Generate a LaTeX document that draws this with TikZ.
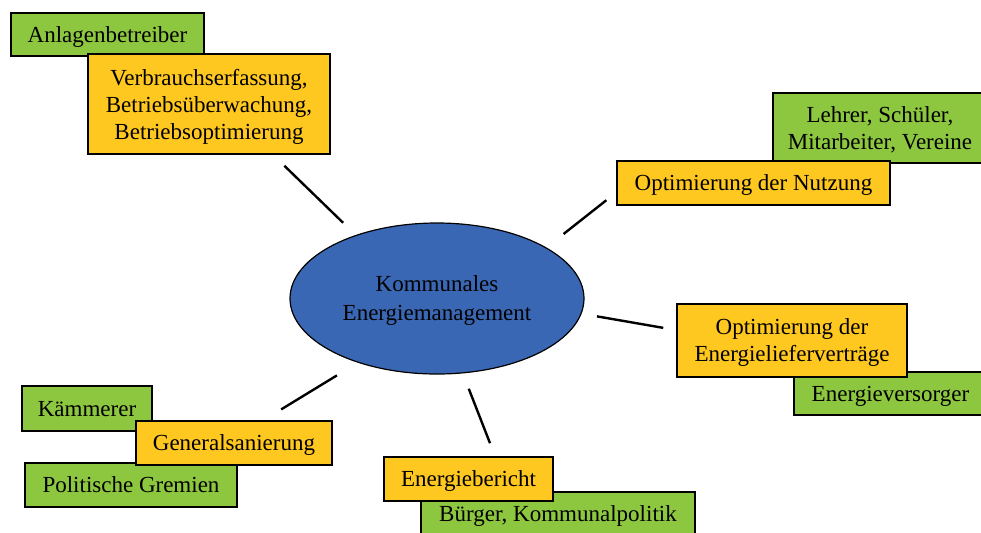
\documentclass[tikz,border=0pt]{standalone}
\usepackage{fontspec}
\setmainfont{Liberation Serif}
\usetikzlibrary{shapes.geometric}
\definecolor{gruen}{RGB}{141,198,63}
\definecolor{gelb}{RGB}{255,200,32}
\definecolor{blau}{RGB}{58,103,179}
\begin{document}
\begin{tikzpicture}[x=0.5pt, y=-0.5pt, font=\fontsize{11.5}{13.5}\selectfont,
    box/.style = {draw, line width=0.75pt, inner sep=0pt, text depth=0pt, align=center},
    rolle/.style = {box, fill=gruen},
    massnahme/.style = {box, fill=gelb},
    kern/.style = {draw, ellipse, fill=blau, line width=0.6pt, inner sep=0pt, text depth=0pt, align=center, minimum width=147pt, minimum height=75.5pt},
    strich/.style = {line width=1.2pt}]
    \useasboundingbox (0,0) rectangle (981,532);
    \node[kern] (kem) at (437,298.5) {Kommunales\\[1pt]Energiemanagement};
    \node[rolle, minimum width=96.5pt, minimum height=21.5pt] (anlagen) at (107.5,34.5) {Anlagenbetreiber};
    \node[rolle, minimum width=107pt, minimum height=35pt] (lehrer) at (880,128) {Lehrer, Schüler,\\Mitarbeiter, Vereine};
    \node[rolle, minimum width=96.5pt, minimum height=21.5pt] (versorger) at (890.5,393.5) {Energieversorger};
    \node[rolle, minimum width=137pt, minimum height=21.5pt] (buerger) at (558,513.5) {Bürger, Kommunalpolitik};
    \node[rolle, minimum width=65pt, minimum height=22.5pt] (kaemmerer) at (87,408.5) {Kämmerer};
    \node[rolle, minimum width=106pt, minimum height=22pt] (gremien) at (131,485) {Politische Gremien};
    \node[massnahme, minimum width=121pt, minimum height=50pt] (verbrauch) at (209,104) {Verbrauchserfassung,\\Betriebsüberwachung,\\Betriebsoptimierung};
    \node[massnahme, minimum width=136.5pt, minimum height=22pt] (nutzung) at (753.5,183) {Optimierung der Nutzung};
    \node[massnahme, minimum width=115pt, minimum height=36.5pt] (liefer) at (792,340.5) {Optimierung der\\Energielieferverträge};
    \node[massnahme, minimum width=84.5pt, minimum height=22pt] (bericht) at (468.5,479) {Energiebericht};
    \node[massnahme, minimum width=98pt, minimum height=22pt] (general) at (234,443) {Generalsanierung};
    \draw[strich, shorten <=8.8pt, shorten >=7.9pt] (kem.142) -- ([xshift=32pt]verbrauch.south);
    \draw[strich, shorten <=10.9pt, shorten >=6.3pt] (kem.25) -- ([yshift=-4.7pt]nutzung.west);
    \draw[strich, shorten <=7.8pt, shorten >=6.6pt] (kem.354) -- ([yshift=5.2pt]liefer.west);
    \draw[strich, shorten <=8.2pt, shorten >=7pt] (kem.289) -- ([xshift=13.3pt]bericht.north);
    \draw[strich, shorten <=12.2pt, shorten >=10.4pt] (kem.219) -- ([xshift=14.7pt]general.north);
\end{tikzpicture}
\end{document}
